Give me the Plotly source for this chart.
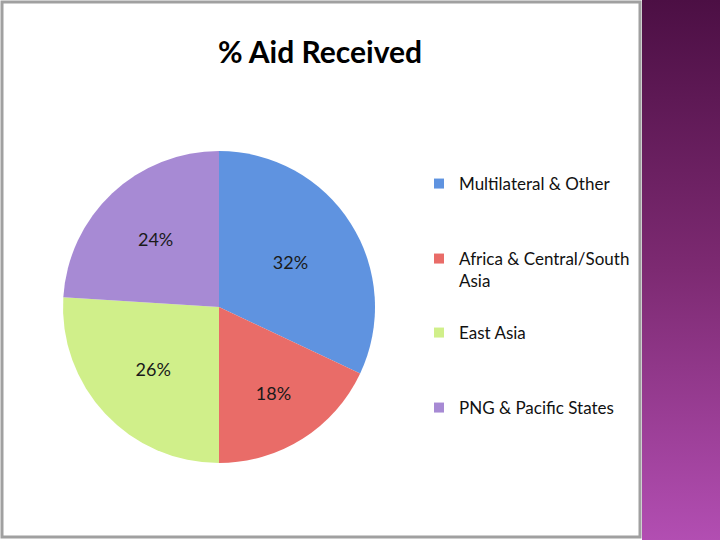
import base64
import plotly.graph_objects as go

labels = ["Multilateral & Other", "Africa & Central/South Asia", "East Asia", "PNG & Pacific States"]
legend_labels = ["Multilateral & Other", "Africa & Central/South<br>Asia", "East Asia", "PNG & Pacific States"]
values = [32, 18, 26, 24]
colors = ["#5f93e0", "#e96c68", "#d0ef8a", "#a78ad4"]
title_text = "% Aid Received"

FONT = "Lato"

fig = go.Figure()
fig.add_trace(go.Pie(
    labels=labels, values=values, sort=False, direction="clockwise", rotation=0,
    marker=dict(colors=colors, line=dict(width=0)),
    textinfo="percent", texttemplate="%{percent:.0%}",
    textposition="inside", insidetextorientation="horizontal",
    textfont=dict(family=FONT, size=18, color="#1a1a1a"),
    domain=dict(x=[(219 - 156) / 720, (219 + 156) / 720], y=[(233 - 156) / 540, (233 + 156) / 540]),
    showlegend=False, hoverinfo="label+percent",
))

legend_names = ["legend", "legend2", "legend3", "legend4"]
legend_centers = [183, 258, 332, 407]
for name, lab, col in zip(legend_names, legend_labels, colors):
    fig.add_trace(go.Scatter(
        x=[None], y=[None], mode="markers", name=lab,
        marker=dict(symbol="square", size=10, color=col),
        legend=name, showlegend=True,
    ))

layout_legends = {}
for name, cy in zip(legend_names, legend_centers):
    layout_legends[name] = dict(
        x=419 / 720, xanchor="left", y=(540 - cy + 17) / 540, yanchor="top",
        bgcolor="rgba(0,0,0,0)", valign="top",
        font=dict(family=FONT, size=17, color="#111111"),
        itemwidth=30,
    )

svg = (
    '<svg xmlns="http://www.w3.org/2000/svg" width="80" height="540">'
    '<defs><linearGradient id="g" x1="0" y1="0" x2="0" y2="1">'
    '<stop offset="0" stop-color="#4c0f44"/>'
    '<stop offset="0.5" stop-color="#7d2a72"/>'
    '<stop offset="1" stop-color="#b24eb2"/>'
    '</linearGradient></defs>'
    '<rect width="80" height="540" fill="url(#g)"/></svg>'
)
src = "data:image/svg+xml;base64," + base64.b64encode(svg.encode()).decode()

fig.update_layout(
    width=720, height=540,
    margin=dict(l=0, r=0, t=0, b=0),
    paper_bgcolor="white", plot_bgcolor="rgba(0,0,0,0)",
    xaxis=dict(visible=False, range=[0, 1]),
    yaxis=dict(visible=False, range=[0, 1]),
    title=dict(text="<b>" + title_text + "</b>", x=320 / 720, xanchor="center",
               y=(540 - 52) / 540, yanchor="middle",
               font=dict(family=FONT, size=30, color="#000000")),
    images=[dict(source=src, xref="paper", yref="paper", x=642 / 720, y=1,
                 sizex=78 / 720, sizey=1, xanchor="left", yanchor="top",
                 sizing="stretch", layer="below")],
    shapes=[dict(type="rect", xref="paper", yref="paper",
                 x0=2 / 720, x1=640 / 720, y0=(540 - 537) / 540, y1=(540 - 2) / 540,
                 line=dict(color="#a0a0a0", width=3), fillcolor="rgba(0,0,0,0)",
                 layer="below")],
    **layout_legends,
)

fig.write_html("out.html", config={"displayModeBar": False},
               post_script="document.body.style.margin='0';")
